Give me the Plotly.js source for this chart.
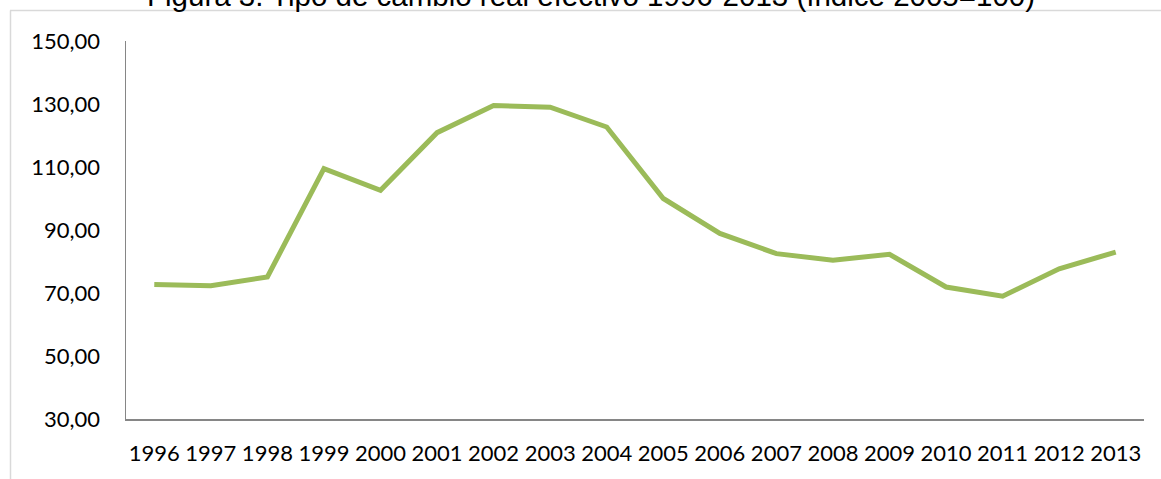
<!DOCTYPE html>
<html>
<head>
<meta charset="utf-8">
<script src="https://cdn.plot.ly/plotly-3.0.1.min.js"></script>
<style>html,body{margin:0;padding:0;background:#fff;}#chart{width:1161px;height:479px;}</style>
</head>
<body>
<div id="chart"></div>
<script>
const years = ['1996','1997','1998','1999','2000','2001','2002','2003','2004','2005','2006','2007','2008','2009','2010','2011','2012','2013'];
const tcre = [72.7,72.3,75.1,109.5,102.6,120.9,129.5,129.0,122.7,100.0,88.9,82.5,80.4,82.3,71.9,69.0,77.7,83.0];
const yTicks = [30,50,70,90,110,130,150];
const titleText = 'Figura 3. Tipo de cambio real efectivo 1996-2013 (índice 2005=100)';

const L = 126, R = 17, T = 41, B = 60, W = 1161, H = 479;
const pw = W - L - R, ph = H - T - B;
const px = x => (x - L) / pw;
const py = y => (H - B - y) / ph;

const tickFont = {family: 'Lato, "Open Sans", sans-serif', size: 22, color: '#000000'};

const trace = {
  x: years, y: tcre, type: 'scatter', mode: 'lines',
  line: {color: '#9BBB59', width: 5, shape: 'linear'},
  hoverinfo: 'x+y'
};

const layout = {
  width: W, height: H,
  margin: {l: L, r: R, t: T, b: B, pad: 0},
  paper_bgcolor: '#ffffff', plot_bgcolor: '#ffffff',
  separators: ',.',
  showlegend: false,
  font: tickFont,
  xaxis: {
    type: 'category',
    showgrid: false, zeroline: false,
    showline: true, linecolor: '#868686', linewidth: 1.5,
    ticks: 'outside', ticklen: 14, tickcolor: 'rgba(0,0,0,0)',
    tickfont: tickFont,
    tickangle: 0,
    range: [-0.5, years.length - 0.5]
  },
  yaxis: {
    range: [30, 150],
    tickvals: yTicks,
    tickformat: '.2f',
    showgrid: false, zeroline: false,
    showline: true, linecolor: '#868686', linewidth: 1.5,
    ticks: 'outside', ticklen: 20, tickcolor: 'rgba(0,0,0,0)',
    tickfont: tickFont
  },
  annotations: [
    {text: titleText, xref: 'paper', yref: 'paper', x: px(591), y: py(13),
     xanchor: 'center', yanchor: 'bottom', showarrow: false, borderpad: 0,
     font: {family: '"Liberation Sans", Arial, sans-serif', size: 29.5, color: '#000000'}}
  ],
  shapes: [
    {type: 'line', xref: 'paper', yref: 'paper', x0: px(10), x1: px(1161), y0: py(10.5), y1: py(10.5),
     line: {color: '#d9d9d9', width: 1.5}},
    {type: 'line', xref: 'paper', yref: 'paper', x0: px(10.5), x1: px(10.5), y0: py(10.5), y1: py(479),
     line: {color: '#d9d9d9', width: 1.5}}
  ]
};

Plotly.newPlot('chart', [trace], layout, {displayModeBar: false, staticPlot: true});
</script>
</body>
</html>
